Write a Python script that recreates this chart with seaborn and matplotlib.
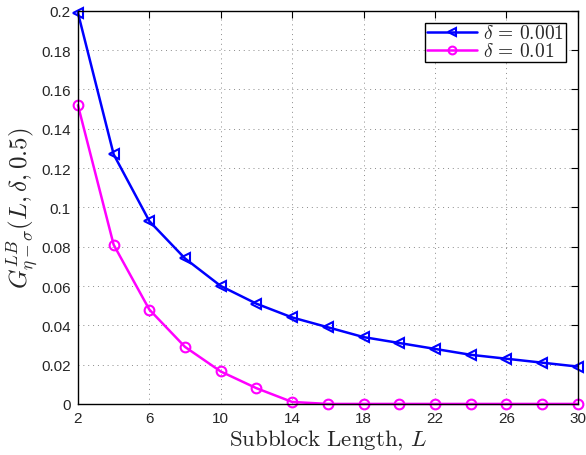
import pandas as pd
import matplotlib
matplotlib.use("Agg")
import matplotlib.pyplot as plt
import seaborn as sns

# ===[ Data: ]=================================================================
L = [2, 4, 6, 8, 10, 12, 14, 16, 18, 20, 22, 24, 26, 28, 30]
g_0001 = [0.199, 0.127, 0.093, 0.074, 0.060, 0.051, 0.044, 0.039,
          0.034, 0.031, 0.028, 0.025, 0.023, 0.021, 0.019]
g_001 = [0.152, 0.081, 0.048, 0.029, 0.0165, 0.008, 0.001, 0.0,
         0.0, 0.0, 0.0, 0.0, 0.0, 0.0, 0.0]
labels = [r"$\delta\,=\,0.001$", r"$\delta\,=\,0.01$"]
x_ticks = [2, 6, 10, 14, 18, 22, 26, 30]
y_ticks = [0, 0.02, 0.04, 0.06, 0.08, 0.1, 0.12, 0.14, 0.16, 0.18, 0.2]
y_tick_labels = ["0", "0.02", "0.04", "0.06", "0.08", "0.1",
                 "0.12", "0.14", "0.16", "0.18", "0.2"]


def main():
    sns.set_style("white")
    plt.rcParams["font.family"] = ["Liberation Sans", "DejaVu Sans"]
    plt.rcParams["mathtext.fontset"] = "cm"

    df = pd.DataFrame({
        "L": L * 2,
        "G": g_0001 + g_001,
        "delta": [labels[0]] * len(L) + [labels[1]] * len(L),
    })
    colors = ["#0000ff", "#ff00ff"]

    fig = plt.figure(figsize=(5.86, 4.56), dpi=100)
    ax = fig.add_axes([0.133, 0.112, 0.853, 0.862])

    sns.lineplot(data=df, x="L", y="G", hue="delta", style="delta",
                 palette=colors, markers=["<", "o"],
                 dashes=False, linewidth=1.8, markersize=7,
                 markeredgewidth=1.5, ax=ax, legend=False)
    for line, col in zip(ax.lines, colors):
        line.set_markeredgecolor(col)
        line.set_markerfacecolor("none")
        line.set_clip_on(False)

    ax.set_xlim(2, 30)
    ax.set_ylim(0, 0.2)
    ax.set_xticks(x_ticks)
    ax.set_yticks(y_ticks)
    ax.set_yticklabels(y_tick_labels)
    ax.tick_params(direction="in", top=True, right=True, labelsize=11,
                   length=5, color="black", pad=5)
    ax.grid(True, linestyle=(0, (1, 4)), color="#8a8a8a", linewidth=0.7)
    for s in ax.spines.values():
        s.set_color("black")
        s.set_linewidth(1)
    ax.set_axisbelow(True)

    ax.set_xlabel(r"$\mathrm{Subblock\ Length,}\,L$", fontsize=16.5,
                  labelpad=2)
    ax.set_ylabel(r"$G^{LB}_{\eta-\sigma}(L,\delta,0.5)$", fontsize=18,
                  labelpad=0)

    handles = ax.lines[:2]
    leg = ax.legend(handles, labels, loc="upper right", fontsize=14,
                    frameon=True, fancybox=False, edgecolor="black",
                    framealpha=1, borderpad=0.1, labelspacing=0.0,
                    handlelength=2.6, handletextpad=0.3,
                    borderaxespad=0.6, markerscale=0.8)
    leg.get_frame().set_linewidth(1)

    fig.savefig("out.png", dpi=100)


if __name__ == "__main__":
    main()
